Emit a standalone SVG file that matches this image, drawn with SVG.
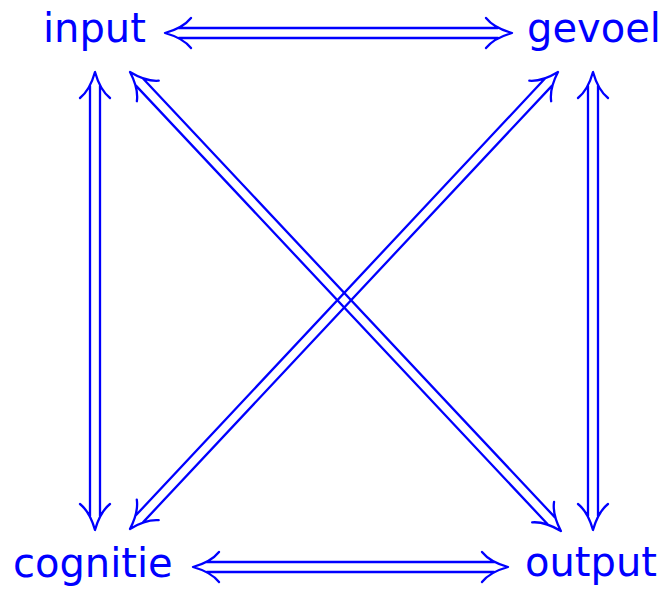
<svg xmlns="http://www.w3.org/2000/svg" width="667" height="589" viewBox="0 0 667 589">
<style>
text{font-family:"DejaVu Sans",sans-serif;font-size:40px;fill:#0000ff}
.a path{fill:none;stroke:#0000ff;stroke-width:2.3;stroke-linecap:round;stroke-linejoin:round}
</style>
<rect width="667" height="589" fill="#fff"/>
<g id="connectors" class="a">
<g transform="translate(165,33)"><path d="M14,-5H333M14,5H333M26,-15Q18,-5 0,0Q18,5 26,15M321,-15Q329,-5 347,0Q329,5 321,15"/></g>
<g transform="translate(193,567)"><path d="M14,-5H301M14,5H301M26,-15Q18,-5 0,0Q18,5 26,15M289,-15Q297,-5 315,0Q297,5 289,15"/></g>
<g transform="translate(95,72) rotate(90)"><path d="M14,-5H444M14,5H444M26,-15Q18,-5 0,0Q18,5 26,15M432,-15Q440,-5 458,0Q440,5 432,15"/></g>
<g transform="translate(593,72) rotate(90)"><path d="M14,-5H444M14,5H444M26,-15Q18,-5 0,0Q18,5 26,15M432,-15Q440,-5 458,0Q440,5 432,15"/></g>
<g transform="translate(130,72) rotate(46.81)"><path d="M14,-5H615.6M14,5H615.6M26,-15Q18,-5 0,0Q18,5 26,15M603.6,-15Q611.6,-5 629.6,0Q611.6,5 603.6,15"/></g>
<g transform="translate(558,72) rotate(133.13)"><path d="M14,-5H612.1M14,5H612.1M26,-15Q18,-5 0,0Q18,5 26,15M600.1,-15Q608.1,-5 626.1,0Q608.1,5 600.1,15"/></g>
</g>
<g id="input"><text x="43" y="42">input</text></g>
<g id="gevoel"><text x="527" y="42">gevoel</text></g>
<g id="cognitie"><text x="13" y="577">cognitie</text></g>
<g id="output"><text x="525" y="576">output</text></g>
</svg>
